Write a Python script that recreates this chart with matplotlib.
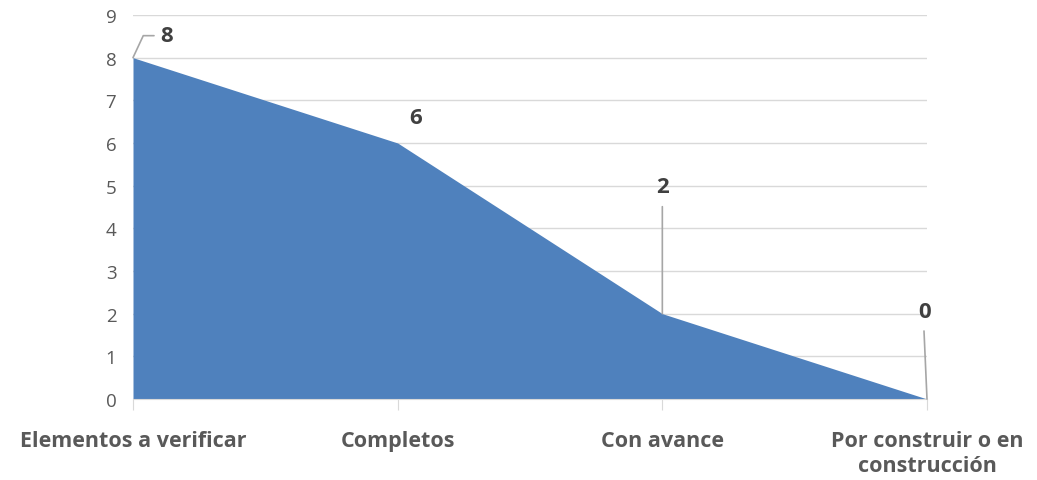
import matplotlib.pyplot as plt

categorias = ["Elementos a verificar", "Completos", "Con avance", "Por construir o en\nconstrucción"]
valores = [8, 6, 2, 0]
y_ticks = list(range(0, 10))

plt.rcParams['font.family'] = ['Open Sans', 'DejaVu Sans']

fig = plt.figure(figsize=(10.37, 4.81), dpi=100)
ax = fig.add_axes([133 / 1037, 1 - 400 / 481, (927 - 133) / 1037, (400 - 16) / 481])

x = list(range(len(valores)))
ax.fill_between(x, valores, 0, color="#4F81BD", linewidth=0, zorder=2)

ax.set_xlim(0, 3)
ax.set_ylim(0, 9)
ax.set_yticks(y_ticks)
ax.set_xticks(x)
ax.set_xticklabels(categorias, fontsize=15.5, fontweight="bold", color="#595959", linespacing=1.25)
ax.tick_params(axis="y", length=0, labelsize=13.5, labelcolor="#595959", pad=12)
ax.tick_params(axis="x", length=8, color="#D9D9D9", pad=14)
ax.grid(axis="y", color="#D9D9D9", linewidth=1, zorder=0)
for s in ["top", "right", "left"]:
    ax.spines[s].set_visible(False)
ax.spines["bottom"].set_color("#D9D9D9")
ax.set_axisbelow(True)

# etiquetas de datos con líneas guía
lbl = dict(fontsize=16, fontweight="bold", color="#404040", va="center", ha="center")
linea = dict(arrowstyle="-", color="#A6A6A6", lw=1.2, shrinkA=0, shrinkB=0)

ax.annotate(str(valores[0]), xy=(0, valores[0]), xytext=(34, 22), textcoords="offset pixels", **lbl)
ax.annotate("", xy=(0, valores[0]), xytext=(21, 22), textcoords="offset pixels",
            arrowprops=dict(linea, connectionstyle="angle,angleA=0,angleB=65,rad=0"))

ax.annotate(str(valores[1]), xy=(1, valores[1]), xytext=(18, 25), textcoords="offset pixels", **lbl)

ax.annotate(str(valores[2]), xy=(2, valores[2]), xytext=(0, 127), textcoords="offset pixels", **lbl)
ax.annotate("", xy=(2, valores[2]), xytext=(0, 107), textcoords="offset pixels", arrowprops=linea)

ax.annotate(str(valores[3]), xy=(3, valores[3]), xytext=(-2, 88), textcoords="offset pixels", **lbl)
ax.annotate("", xy=(3, valores[3]), xytext=(-3, 68), textcoords="offset pixels", arrowprops=linea)

fig.savefig("out.png", dpi=100)
